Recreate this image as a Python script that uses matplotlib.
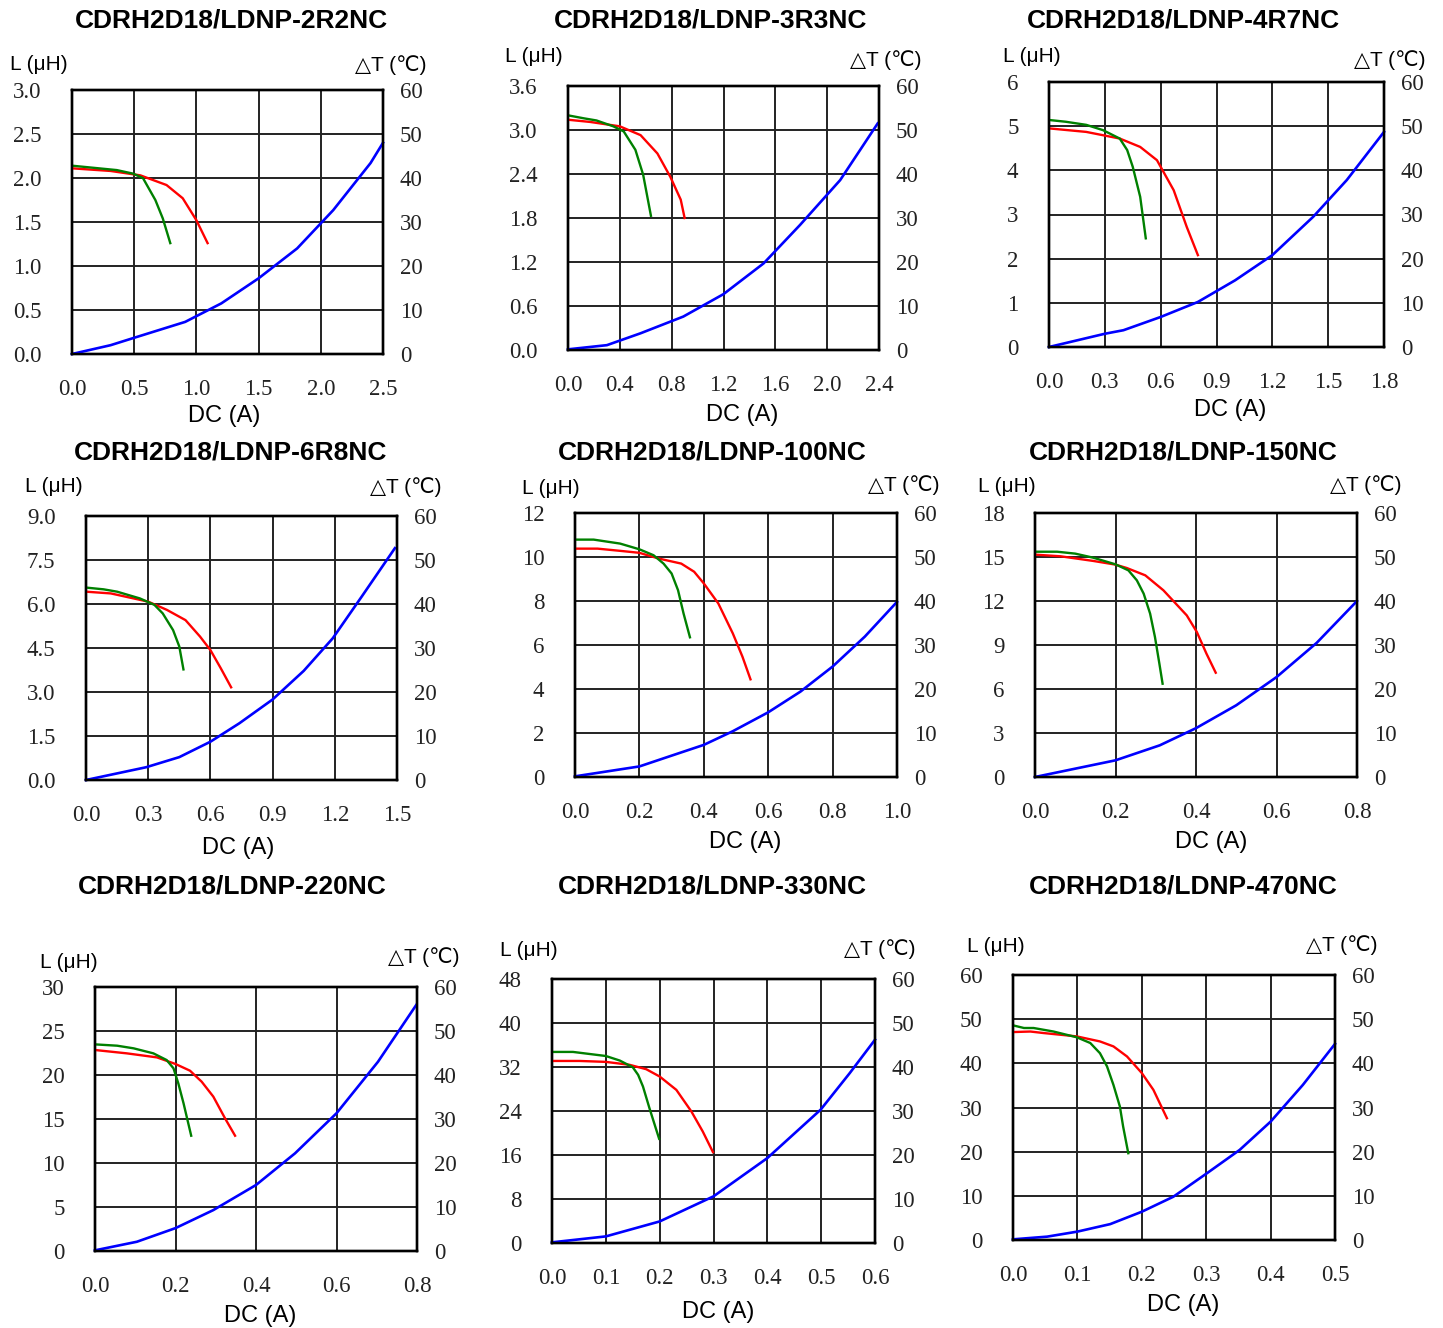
import matplotlib
matplotlib.use("Agg")
import matplotlib.pyplot as plt

W, H = 1443, 1328

titles = ["CDRH2D18/LDNP-2R2NC", "CDRH2D18/LDNP-3R3NC", "CDRH2D18/LDNP-4R7NC",
          "CDRH2D18/LDNP-6R8NC", "CDRH2D18/LDNP-100NC", "CDRH2D18/LDNP-150NC",
          "CDRH2D18/LDNP-220NC", "CDRH2D18/LDNP-330NC", "CDRH2D18/LDNP-470NC"]
x_max = [2.5, 2.4, 1.8, 1.5, 1.0, 0.8, 0.8, 0.6, 0.5]
x_step = [0.5, 0.4, 0.3, 0.3, 0.2, 0.2, 0.2, 0.1, 0.1]
l_max = [3.0, 3.6, 6, 9.0, 12, 18, 30, 48, 60]
l_step = [0.5, 0.6, 1, 1.5, 2, 3, 5, 8, 10]
l_decimals = [1, 1, 0, 1, 0, 0, 0, 0, 0]
t_max = 60
t_step = 10

# (DC current A, inductance uH) and (DC current A, temp rise C)
p1_red = [(0, 2.11), (0.31, 2.08), (0.55, 2.03), (0.76, 1.92), (0.89, 1.77), (1.0, 1.52), (1.09, 1.26)]
p1_green = [(0, 2.14), (0.36, 2.09), (0.49, 2.05), (0.57, 2.0), (0.67, 1.75), (0.73, 1.54), (0.79, 1.26)]
p1_blue = [(0, 0), (0.31, 2.0), (0.49, 3.6), (0.91, 7.3), (1.2, 11.5), (1.5, 17.2), (1.81, 24),
           (2.1, 32.7), (2.4, 43.4), (2.5, 48)]

p2_red = [(0, 3.14), (0.17, 3.11), (0.40, 3.05), (0.56, 2.93), (0.69, 2.68), (0.79, 2.36), (0.87, 2.05), (0.90, 1.80)]
p2_green = [(0, 3.2), (0.12, 3.16), (0.22, 3.13), (0.35, 3.05), (0.43, 2.98), (0.52, 2.73), (0.58, 2.39), (0.64, 1.83)]
p2_blue = [(0, 0.15), (0.30, 1.1), (0.56, 3.8), (0.89, 7.6), (1.2, 12.7), (1.51, 19.7), (1.79, 28.4),
           (2.1, 38.6), (2.39, 51.5)]

p3_red = [(0, 4.95), (0.20, 4.87), (0.38, 4.72), (0.49, 4.53), (0.58, 4.23), (0.67, 3.55), (0.74, 2.72), (0.80, 2.08)]
p3_green = [(0, 5.14), (0.09, 5.1), (0.20, 5.03), (0.29, 4.91), (0.38, 4.72), (0.42, 4.46), (0.45, 4.08),
            (0.49, 3.4), (0.52, 2.46)]
p3_blue = [(0, 0), (0.30, 3.0), (0.40, 3.8), (0.60, 6.8), (0.80, 10.2), (1.0, 15.1), (1.2, 20.8),
           (1.42, 29.5), (1.6, 37.8), (1.8, 48.7)]

p4_red = [(0, 6.42), (0.12, 6.36), (0.30, 6.08), (0.39, 5.8), (0.48, 5.45), (0.55, 4.89), (0.60, 4.43),
          (0.65, 3.81), (0.70, 3.16)]
p4_green = [(0, 6.56), (0.085, 6.5), (0.15, 6.42), (0.26, 6.19), (0.33, 5.97), (0.37, 5.68), (0.42, 5.11),
            (0.45, 4.55), (0.47, 3.77)]
p4_blue = [(0, 0), (0.29, 2.9), (0.45, 5.2), (0.60, 8.7), (0.74, 12.9), (0.90, 18.3), (1.05, 24.8),
           (1.19, 32.2), (1.33, 41.7), (1.49, 52.7)]

p5_red = [(0, 10.38), (0.07, 10.38), (0.14, 10.28), (0.20, 10.19), (0.26, 9.93), (0.33, 9.70), (0.37, 9.33),
          (0.40, 8.80), (0.445, 7.89), (0.49, 6.53), (0.52, 5.47), (0.545, 4.44)]
p5_green = [(0, 10.79), (0.058, 10.79), (0.14, 10.61), (0.20, 10.35), (0.244, 10.08), (0.275, 9.70),
            (0.30, 9.25), (0.32, 8.49), (0.337, 7.44), (0.357, 6.35)]
p5_blue = [(0, 0.15), (0.20, 2.4), (0.31, 5.1), (0.40, 7.3), (0.49, 10.4), (0.60, 14.7), (0.70, 19.4),
           (0.80, 25.1), (0.90, 31.9), (1.0, 39.8)]

p6_red = [(0, 15.16), (0.063, 15.05), (0.145, 14.73), (0.20, 14.48), (0.228, 14.25), (0.274, 13.75),
          (0.319, 12.73), (0.377, 11.02), (0.402, 9.89), (0.426, 8.41), (0.449, 7.11)]
p6_green = [(0, 15.36), (0.055, 15.36), (0.10, 15.23), (0.145, 14.95), (0.20, 14.5), (0.232, 14.09),
            (0.253, 13.41), (0.27, 12.5), (0.286, 11.14), (0.298, 9.55), (0.309, 7.73), (0.317, 6.36)]
p6_blue = [(0, 0), (0.088, 1.67), (0.20, 3.79), (0.31, 7.2), (0.40, 11.1), (0.50, 16.3), (0.60, 22.7),
           (0.70, 30.5), (0.80, 40.0)]

p7_red = [(0, 22.84), (0.079, 22.46), (0.154, 22.0), (0.20, 21.25), (0.236, 20.49), (0.265, 19.24),
          (0.294, 17.54), (0.323, 15.08), (0.348, 13.1)]
p7_green = [(0, 23.48), (0.055, 23.33), (0.096, 23.03), (0.145, 22.46), (0.178, 21.7), (0.195, 20.76),
            (0.207, 19.05), (0.22, 16.78), (0.239, 13.1)]
p7_blue = [(0, 0.15), (0.104, 2.1), (0.20, 5.2), (0.294, 9.3), (0.40, 15.0), (0.497, 22.2), (0.60, 31.3),
           (0.703, 43.0), (0.798, 55.9)]

p8_red = [(0, 33.1), (0.051, 33.1), (0.10, 32.93), (0.144, 32.4), (0.175, 31.6), (0.20, 30.27),
          (0.231, 27.84), (0.259, 23.9), (0.28, 20.28), (0.299, 16.52)]
p8_green = [(0, 34.74), (0.039, 34.74), (0.10, 34.0), (0.126, 33.17), (0.15, 31.96), (0.16, 30.57),
            (0.169, 28.45), (0.181, 24.52), (0.199, 18.95)]
p8_blue = [(0, 0.15), (0.10, 1.5), (0.20, 4.9), (0.30, 10.6), (0.40, 19.3), (0.499, 30.3), (0.553, 38.6),
           (0.60, 46.2)]

p9_red = [(0, 47.08), (0.027, 47.2), (0.048, 46.85), (0.099, 46.1), (0.135, 44.96), (0.156, 43.83),
          (0.177, 41.56), (0.20, 37.8), (0.218, 34.0), (0.239, 27.58)]
p9_green = [(0, 48.6), (0.017, 48.0), (0.032, 48.0), (0.063, 47.2), (0.099, 45.9), (0.12, 44.6),
            (0.135, 42.3), (0.146, 39.3), (0.156, 35.1), (0.166, 30.2), (0.171, 25.7), (0.179, 19.65)]
p9_blue = [(0, 0.15), (0.053, 0.76), (0.10, 1.9), (0.151, 3.6), (0.20, 6.4), (0.249, 9.8), (0.301, 15.1),
           (0.352, 20.4), (0.40, 26.8), (0.45, 35.1), (0.50, 44.4)]

reds = [p1_red, p2_red, p3_red, p4_red, p5_red, p6_red, p7_red, p8_red, p9_red]
greens = [p1_green, p2_green, p3_green, p4_green, p5_green, p6_green, p7_green, p8_green, p9_green]
blues = [p1_blue, p2_blue, p3_blue, p4_blue, p5_blue, p6_blue, p7_blue, p8_blue, p9_blue]

# layout in pixels of the reference image
boxes = [(72, 90, 383, 354), (568, 86, 879, 350), (1049, 82, 1384, 347),
         (86, 516, 397, 780), (575, 513, 897, 777), (1035, 513, 1357, 777),
         (95, 987, 417, 1251), (552, 979, 875, 1243), (1013, 975, 1335, 1240)]
title_xy = [(231, 20), (711, 20), (1183, 20), (231, 452), (712, 453), (1183, 453),
            (232, 887), (712, 887), (1183, 887)]
lunit_xy = [(10, 64), (505, 57), (1003, 57), (25, 486), (522, 488), (978, 486),
            (40, 962), (500, 950), (967, 946)]
tunit_xy = [(427, 65), (922, 60), (1425, 60), (442, 487), (940, 485), (1401, 485),
            (460, 957), (915, 949), (1377, 945)]
dc_xy = [(224, 416), (742, 415), (1230, 410), (238, 848), (745, 842), (1211, 842),
         (260, 1316), (718, 1312), (1183, 1305)]

SANS = ["Liberation Sans", "DejaVu Sans"]
SERIF = "Liberation Serif"
TICK_FS = 16.5

fig = plt.figure(figsize=(W / 100, H / 100), dpi=100)


def fx(px):
    return px / W


def fy(py):
    return 1 - py / H


for i in range(9):
    x0, y0, x1, y1 = boxes[i]
    ax = fig.add_axes([fx(x0), fy(y1), fx(x1) - fx(x0), fy(y0) - fy(y1)])
    ax2 = ax.twinx()

    nx = int(round(x_max[i] / x_step[i]))
    xt = [k * x_step[i] for k in range(nx + 1)]
    ny = int(round(l_max[i] / l_step[i]))
    lt = [k * l_step[i] for k in range(ny + 1)]
    tt = list(range(0, t_max + 1, t_step))

    ax.set_xlim(0, x_max[i])
    ax.set_ylim(0, l_max[i])
    ax2.set_ylim(0, t_max)
    ax.set_xticks(xt)
    ax.set_xticklabels([f"{v:.1f}" for v in xt], fontfamily=SERIF, fontsize=TICK_FS, color="#222222")
    ax.set_yticks(lt)
    ax.set_yticklabels([f"{v:.{l_decimals[i]}f}" for v in lt], fontfamily=SERIF, fontsize=TICK_FS,
                       color="#222222")
    ax2.set_yticks(tt)
    ax2.set_yticklabels([str(v) for v in tt], fontfamily=SERIF, fontsize=TICK_FS, color="#222222")
    ax.tick_params(axis="x", length=0, pad=18)
    ax.tick_params(axis="y", length=0, pad=22)
    ax2.tick_params(axis="y", length=0, pad=12)

    ax.grid(True, color="#222222", lw=1.4)
    for a in (ax, ax2):
        for s in a.spines.values():
            s.set_linewidth(1.7)
            s.set_color("black")

    rx, ry = zip(*reds[i])
    gx, gy = zip(*greens[i])
    bx, by = zip(*blues[i])
    ax.plot(rx, ry, color="#ff0000", lw=1.7, zorder=3)
    ax.plot(gx, gy, color="#008000", lw=1.7, zorder=3)
    ax2.plot(bx, by, color="#0000ff", lw=1.9, clip_on=False)

    tx, ty = title_xy[i]
    fig.text(fx(tx), fy(ty), titles[i], ha="center", va="center", fontsize=19,
             fontweight="bold", family=SANS)
    lx, ly = lunit_xy[i]
    fig.text(fx(lx), fy(ly), "L (μH)", ha="left", va="center", fontsize=15, family=SANS)
    ux, uy = tunit_xy[i]
    fig.text(fx(ux), fy(uy), "△T (℃)", ha="right", va="center", fontsize=15, family=SANS)
    dx, dy = dc_xy[i]
    fig.text(fx(dx), fy(dy), "DC (A)", ha="center", va="center", fontsize=17, family=SANS)

fig.savefig("out.png", dpi=100, facecolor="white")
